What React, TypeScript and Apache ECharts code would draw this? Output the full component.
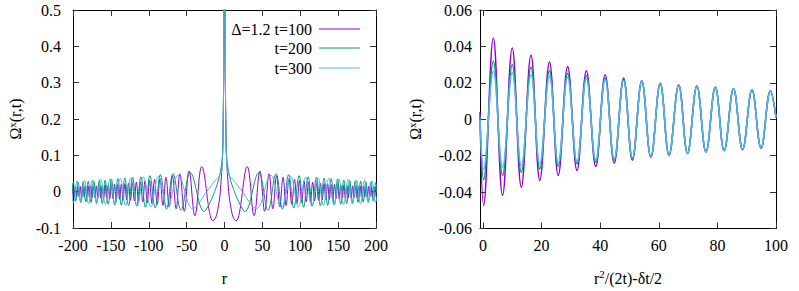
import React, { useEffect, useRef } from "react";
import * as echarts from "echarts";

const FONT = "'Liberation Serif', serif";
const COLORS = ["#9400d3", "#009e73", "#56b4e9"];
const seriesNames = ["Δ=1.2 t=100", "t=200", "t=300"];

// Left panel: Ω^x(r,t) vs r (values for r >= 0; the curves are symmetric in r)
const r100 = [0, 1, 2, 3, 4.5, 6, 9, 12,
  15.4, 30.0, 39.1, 46.8, 53.0, 58.9, 63.8, 68.8, 73.0, 77.3, 81.3, 85.1, 88.8, 92.4, 95.7, 99.0,
  101.9, 105.0, 107.9, 110.9, 113.5, 116.4, 119.0, 121.6, 124.1, 126.7, 129.0, 131.5, 133.8, 136.2, 138.5, 140.7,
  143.0, 145.2, 147.3, 149.4, 151.5, 153.6, 155.6, 157.6, 159.6, 161.6, 163.5, 165.4, 167.3, 169.2, 171.1, 172.9,
  174.7, 176.5, 178.3, 180.0, 181.8, 183.5, 185.2, 186.9, 188.6, 190.2, 191.9, 193.5, 195.1, 196.7, 198.3, 199.9, 201.5];
const v100 = [0.9, 0.35, 0.15, 0.08, 0.03, -0.01, -0.05, -0.073,
  -0.080, 0.069, -0.066, 0.057, -0.054, 0.049, -0.047, 0.044, -0.042, 0.040, -0.038, 0.036, -0.035, 0.034, -0.033, 0.031,
  -0.030, 0.029, -0.028, 0.027, -0.027, 0.026, -0.025, 0.025, -0.024, 0.023, -0.023, 0.022, -0.022, 0.021, -0.021, 0.020,
  -0.020, 0.020, -0.019, 0.019, -0.019, 0.018, -0.018, 0.018, -0.018, 0.017, -0.017, 0.017, -0.017, 0.016, -0.016, 0.016,
  -0.016, 0.016, -0.015, 0.015, -0.015, 0.015, -0.015, 0.015, -0.015, 0.014, -0.014, 0.014, -0.014, 0.014, -0.014, 0.014, -0.014];

const r200 = [0, 1, 2, 3, 5, 7.5, 10, 14, 18.5, 23,
  26.8, 45.2, 57.4, 68.0, 76.6, 84.7, 91.5, 98.5, 104.4, 110.4, 116.0, 121.4, 126.6, 131.5, 136.2, 140.8,
  145.0, 149.3, 153.4, 157.5, 161.3, 165.3, 168.9, 172.7, 176.2, 179.8, 183.1, 186.6, 189.9, 193.2, 196.4, 199.6, 202.7];
const v200 = [0.8, 0.35, 0.15, 0.09, 0.06, 0.035, 0.018, -0.005, -0.027, -0.045,
  -0.055, 0.052, -0.051, 0.0495, -0.048, 0.047, -0.045, 0.044, -0.043, 0.041, -0.040, 0.040, -0.039, 0.0375, -0.0375, 0.036,
  -0.0366, 0.0345, -0.0347, 0.032, -0.033, 0.031, -0.031, 0.030, -0.0297, 0.029, -0.0285, 0.0275, -0.0275, 0.026, -0.026, 0.0255, -0.025];

const r300 = [0, 1, 2, 3, 5, 9, 14, 20, 27, 35,
  42.0, 61.2, 75.1, 87.3, 97.4, 107.1, 115.2, 123.5, 130.5, 137.7, 144.5,
  151.0, 157.2, 163.2, 168.8, 174.4, 179.5, 184.8, 189.7, 194.7, 199.3, 204.2];
const v300 = [1.0, 0.4, 0.15, 0.07, 0.048, 0.038, 0.026, 0.01, -0.01, -0.035,
  -0.047, 0.045, -0.044, 0.042, -0.042, 0.040, -0.040, 0.038, -0.038, 0.037, -0.037,
  0.035, -0.035, 0.034, -0.034, 0.032, -0.033, 0.031, -0.031, 0.030, -0.030, 0.029];

// Right panel: Ω^x vs r^2/(2t) - δt/2
const xScaled = [-1, 0.24, 3.55, 6.7, 10.0, 13.1, 16.4, 19.4, 22.7, 25.7, 28.9, 32.1, 35.3, 38.5, 41.7, 44.8,
  48.0, 51.0, 54.2, 57.3, 60.5, 63.5, 66.8, 69.8, 73.0, 76.1, 79.3, 82.3, 85.5, 88.6, 91.8, 94.9, 98.1, 100];
const w100 = [0.004, -0.0473, 0.0446, -0.0418, 0.0391, -0.0373, 0.0351, -0.0336, 0.0315, -0.0309, 0.029, -0.0282, 0.0267, -0.026, 0.0245, -0.0242,
  0.0227, -0.0225, 0.0212, -0.021, 0.0198, -0.0198, 0.0189, -0.0188, 0.0183, -0.018, 0.0177, -0.0173, 0.0168, -0.0167, 0.0162, -0.0159, 0.0157, 0.001];
const w200 = [0.002, -0.0331, 0.0318, -0.0309, 0.030, -0.0291, 0.0285, -0.0273, 0.0267, -0.0258, 0.0251, -0.0245, 0.024, -0.0236, 0.0227, -0.0227,
  0.0218, -0.0218, 0.0209, -0.0207, 0.0196, -0.0196, 0.0187, -0.0187, 0.0182, -0.0178, 0.0176, -0.0173, 0.0167, -0.0167, 0.016, -0.0158, 0.0155, 0.001];
const w300 = [0.0, -0.0273, 0.0264, -0.0264, 0.0255, -0.0255, 0.0245, -0.0245, 0.0236, -0.024, 0.0231, -0.0233, 0.0224, -0.0224, 0.0218, -0.0218,
  0.0213, -0.0212, 0.0207, -0.0205, 0.0196, -0.0196, 0.0187, -0.0186, 0.0182, -0.0178, 0.0176, -0.0172, 0.0166, -0.0166, 0.016, -0.0157, 0.0154, 0.001];

const rightXTicks = [0, 20, 40, 60, 80, 100];

function mirrored(rs: number[], vs: number[]) {
  const n = Math.min(rs.length, vs.length);
  const out: number[][] = [];
  for (let i = n - 1; i >= 1; i--) out.push([-rs[i], vs[i]]);
  for (let i = 0; i < n; i++) out.push([rs[i], vs[i]]);
  return out;
}
function zip(xs: number[], ys: number[]) {
  const n = Math.min(xs.length, ys.length);
  const out: number[][] = [];
  for (let i = 0; i < n; i++) out.push([xs[i], ys[i]]);
  return out;
}

const FS = 16;
const labelStyle = { fontFamily: FONT, fontSize: FS, color: "#000" };
const lineAxis = { show: true, onZero: false, lineStyle: { color: "#000", width: 1 } };
const tickIn = { show: true, inside: true, length: 6, lineStyle: { color: "#333", width: 1 } };
const nameRich = {
  m: { fontFamily: FONT, fontSize: FS, color: "#000", lineHeight: 19 },
  s: { fontFamily: FONT, fontSize: 11, color: "#000", verticalAlign: "top", lineHeight: 11 },
};

export default function App() {
  const ref = useRef<HTMLDivElement>(null);
  useEffect(() => {
    if (!ref.current) return;
    const chart = echarts.init(ref.current, null, { renderer: "svg" });
    const leftData = [mirrored(r100, v100), mirrored(r200, v200), mirrored(r300, v300)];
    const rightData = [zip(xScaled, w100), zip(xScaled, w200), zip(xScaled, w300)];
    const series: any[] = [];
    leftData.forEach((d, i) =>
      series.push({
        type: "line", name: seriesNames[i], xAxisIndex: 0, yAxisIndex: 0, data: d,
        smooth: 0.4, showSymbol: false, symbol: "none", clip: true,
        lineStyle: { color: COLORS[i], width: 1 }, itemStyle: { color: COLORS[i] },
      })
    );
    rightData.forEach((d, i) =>
      series.push({
        type: "line", name: seriesNames[i] + " (scaled)", xAxisIndex: 2, yAxisIndex: 2, data: d,
        smooth: 0.4, showSymbol: false, symbol: "none", clip: true,
        lineStyle: { color: COLORS[i], width: 1.5 }, itemStyle: { color: COLORS[i] },
      })
    );
    const legendRows = [29, 48, 68];
    const graphics: any[] = [];
    seriesNames.forEach((n, i) => {
      graphics.push({
        type: "text", x: 312, y: legendRows[i],
        style: { text: n, fontFamily: FONT, fontSize: FS, fill: "#000", align: "right", verticalAlign: "middle" },
      });
      graphics.push({
        type: "line", shape: { x1: 319, y1: legendRows[i], x2: 360, y2: legendRows[i] },
        style: { stroke: COLORS[i], lineWidth: 1 },
      });
    });
    chart.setOption({
      animation: false,
      backgroundColor: "#fff",
      textStyle: { fontFamily: FONT },
      grid: [
        { left: 73, right: 423, top: 10, bottom: 61 },
        { left: 480, right: 23, top: 10, bottom: 61 },
      ],
      xAxis: [
        {
          gridIndex: 0, type: "value", min: -200, max: 200, interval: 50, position: "bottom",
          axisLine: lineAxis, axisTick: tickIn, splitLine: { show: false },
          axisLabel: { ...labelStyle, margin: 9 },
          name: "r", nameLocation: "middle", nameGap: 42,
          nameTextStyle: { fontFamily: FONT, fontSize: FS, color: "#000" },
        },
        {
          gridIndex: 0, type: "value", min: -200, max: 200, interval: 50, position: "top",
          axisLine: lineAxis, axisTick: tickIn, splitLine: { show: false }, axisLabel: { show: false },
        },
        {
          gridIndex: 1, type: "value", min: -1, max: 100, position: "bottom",
          axisLine: lineAxis, axisTick: { ...tickIn, customValues: rightXTicks }, splitLine: { show: false },
          axisLabel: { ...labelStyle, margin: 9, customValues: rightXTicks },
          name: "{m|r}{s|2}{m|/(2t)-δt/2}", nameLocation: "middle", nameGap: 40,
          nameTextStyle: { fontFamily: FONT, fontSize: FS, color: "#000", rich: nameRich },
        },
        {
          gridIndex: 1, type: "value", min: -1, max: 100, position: "top",
          axisLine: lineAxis, axisTick: { ...tickIn, customValues: rightXTicks }, splitLine: { show: false },
          axisLabel: { show: false, customValues: rightXTicks },
        },
      ],
      yAxis: [
        {
          gridIndex: 0, type: "value", min: -0.1, max: 0.5, interval: 0.1, position: "left",
          axisLine: lineAxis, axisTick: tickIn, splitLine: { show: false },
          axisLabel: { ...labelStyle, margin: 12 },
          name: "{m|Ω}{s|x}{m|(r,t)}", nameLocation: "middle", nameRotate: 90, nameGap: 48,
          nameTextStyle: { fontFamily: FONT, fontSize: FS, color: "#000", rich: nameRich },
        },
        {
          gridIndex: 0, type: "value", min: -0.1, max: 0.5, interval: 0.1, position: "right",
          axisLine: lineAxis, axisTick: tickIn, splitLine: { show: false }, axisLabel: { show: false },
        },
        {
          gridIndex: 1, type: "value", min: -0.06, max: 0.06, interval: 0.02, position: "left",
          axisLine: lineAxis, axisTick: tickIn, splitLine: { show: false },
          axisLabel: { ...labelStyle, margin: 8 },
          name: "{m|Ω}{s|x}{m|(r,t)}", nameLocation: "middle", nameRotate: 90, nameGap: 55,
          nameTextStyle: { fontFamily: FONT, fontSize: FS, color: "#000", rich: nameRich },
        },
        {
          gridIndex: 1, type: "value", min: -0.06, max: 0.06, interval: 0.02, position: "right",
          axisLine: lineAxis, axisTick: tickIn, splitLine: { show: false }, axisLabel: { show: false },
        },
      ],
      graphic: graphics,
      series,
    });
    return () => chart.dispose();
  }, []);
  return (
    <div
      ref={ref}
      style={{ position: "absolute", left: 0, top: 0, width: 799, height: 291, background: "#fff" }}
    />
  );
}
